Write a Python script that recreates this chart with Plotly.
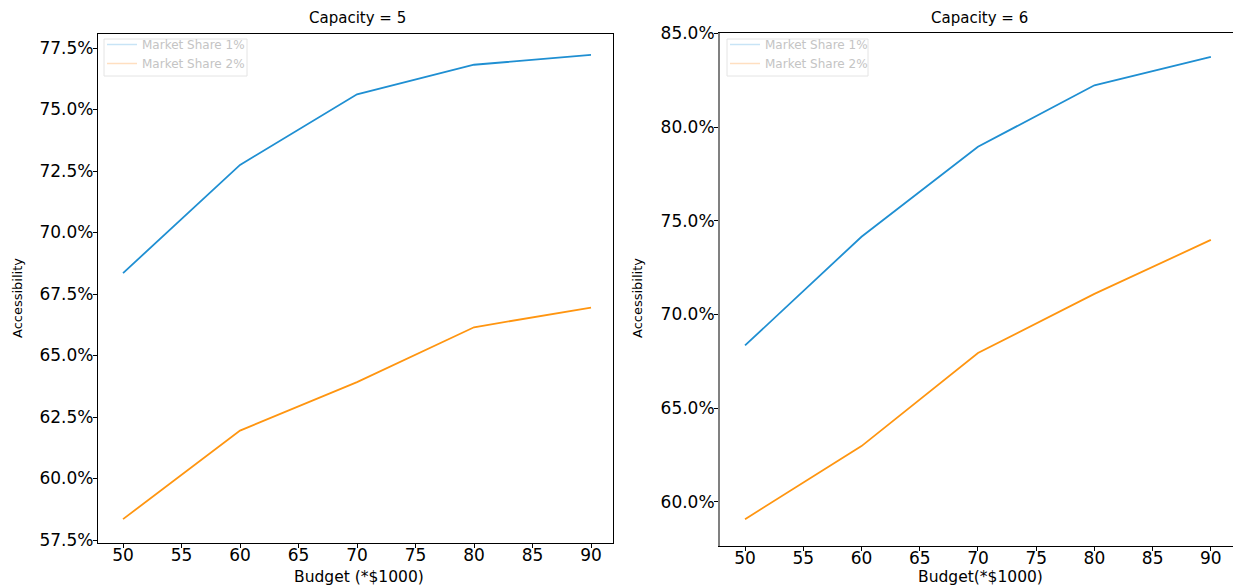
import plotly.graph_objects as go

budget = [50, 60, 70, 80, 90]
cap5_share1 = [0.6835, 0.7275, 0.7562, 0.7682, 0.7722]
cap5_share2 = [0.5835, 0.6195, 0.6392, 0.6615, 0.6695]
cap6_share1 = [0.6835, 0.7415, 0.7895, 0.8223, 0.8375]
cap6_share2 = [0.5908, 0.6298, 0.6795, 0.7110, 0.7398]
series_names = ["Market Share 1%", "Market Share 2%"]
x_ticks = [50, 55, 60, 65, 70, 75, 80, 85, 90]
y_ticks_left = [0.575, 0.60, 0.625, 0.65, 0.675, 0.70, 0.725, 0.75, 0.775]
y_ticks_right = [0.60, 0.65, 0.70, 0.75, 0.80, 0.85]

BLUE = "#1f8fd2"
ORANGE = "#ff9510"
W, H = 1233, 588
FONT = "DejaVu Sans"

def px(x):
    return x / W

def py(y):
    return 1 - y / H

fig = go.Figure()
fig.add_trace(go.Scatter(x=budget, y=cap5_share1, mode="lines", line=dict(color=BLUE, width=1.8),
                         xaxis="x", yaxis="y", showlegend=False, name=series_names[0]))
fig.add_trace(go.Scatter(x=budget, y=cap5_share2, mode="lines", line=dict(color=ORANGE, width=1.8),
                         xaxis="x", yaxis="y", showlegend=False, name=series_names[1]))
fig.add_trace(go.Scatter(x=budget, y=cap6_share1, mode="lines", line=dict(color=BLUE, width=1.8),
                         xaxis="x2", yaxis="y2", showlegend=False, name=series_names[0]))
fig.add_trace(go.Scatter(x=budget, y=cap6_share2, mode="lines", line=dict(color=ORANGE, width=1.8),
                         xaxis="x2", yaxis="y2", showlegend=False, name=series_names[1]))
# faded legend entries
for lg, xa, ya in [("legend", "x", "y"), ("legend2", "x2", "y2")]:
    fig.add_trace(go.Scatter(x=[None], y=[None], mode="lines", line=dict(color="#c8e4f6", width=1.5),
                             name=series_names[0], legend=lg, xaxis=xa, yaxis=ya))
    fig.add_trace(go.Scatter(x=[None], y=[None], mode="lines", line=dict(color="#ffdfc0", width=1.5),
                             name=series_names[1], legend=lg, xaxis=xa, yaxis=ya))

tickfont = dict(family=FONT, size=17, color="black")
common_x = dict(tickvals=x_ticks, ticks="outside", ticklen=4, tickcolor="black", showgrid=False,
                zeroline=False, tickfont=tickfont, showline=True, linecolor="black", linewidth=1.3,
                automargin=False, ticklabelstandoff=-8)
common_y = dict(tickformat=".1%", ticks="outside", ticklen=4, tickcolor="black", showgrid=False,
                zeroline=False, tickfont=tickfont, showline=True, automargin=False,
                ticklabelstandoff=-4)
legend_style = dict(xanchor="left", yanchor="top", bgcolor="rgba(0,0,0,0)",
                    borderwidth=0,
                    font=dict(family=FONT, size=12, color="#c4c4c4"),
                    tracegroupgap=0, itemwidth=30)

fig.update_layout(
    width=W, height=H, margin=dict(l=0, r=0, t=0, b=0, autoexpand=False),
    paper_bgcolor="white", plot_bgcolor="white",
    xaxis=dict(domain=[px(98), px(613)], range=[47.86, 91.88], anchor="y", mirror=True, **common_x),
    yaxis=dict(domain=[py(543), py(34)], range=[0.5738, 0.7807], anchor="x", tickvals=y_ticks_left,
               linecolor="black", linewidth=1.3, mirror=True, **common_y),
    xaxis2=dict(domain=[px(720), 1.0], range=[47.85, 91.9], anchor="y2", mirror=True, **common_x),
    yaxis2=dict(domain=[py(546), py(33)], range=[0.5765, 0.8502], anchor="x2", tickvals=y_ticks_right,
                linecolor="#808080", linewidth=2, **common_y),
    legend=dict(x=px(102), y=py(30), **legend_style),
    legend2=dict(x=px(725), y=py(30), **legend_style),
    font=dict(family=FONT, color="black"),
    shapes=[
        dict(type="rect", xref="paper", yref="paper", x0=px(104), x1=px(247), y0=py(76), y1=py(39),
             line=dict(color="#e4e4e4", width=1), fillcolor="rgba(255,255,255,0)", layer="below"),
        dict(type="rect", xref="paper", yref="paper", x0=px(727), x1=px(868), y0=py(76), y1=py(39),
             line=dict(color="#e4e4e4", width=1), fillcolor="rgba(255,255,255,0)", layer="below"),
    ],
)

anns = [
    dict(text="Capacity = 5", x=px(357), y=py(17.5), font=dict(family=FONT, size=15, color="black")),
    dict(text="Capacity = 6", x=px(979), y=py(17.5), font=dict(family=FONT, size=15, color="black")),
    dict(text="Budget (*$1000)", x=px(359), y=py(577), font=dict(family=FONT, size=15.5, color="black")),
    dict(text="Budget(*$1000)", x=px(980), y=py(577), font=dict(family=FONT, size=15.5, color="black")),
    dict(text="Accessibility", x=px(17), y=py(298), textangle=-90, font=dict(family=FONT, size=13, color="black")),
    dict(text="Accessibility", x=px(637), y=py(298), textangle=-90, font=dict(family=FONT, size=13, color="black")),
]
for a in anns:
    fig.add_annotation(xref="paper", yref="paper", showarrow=False, xanchor="center", yanchor="middle", **a)

fig.write_html("out.html")
